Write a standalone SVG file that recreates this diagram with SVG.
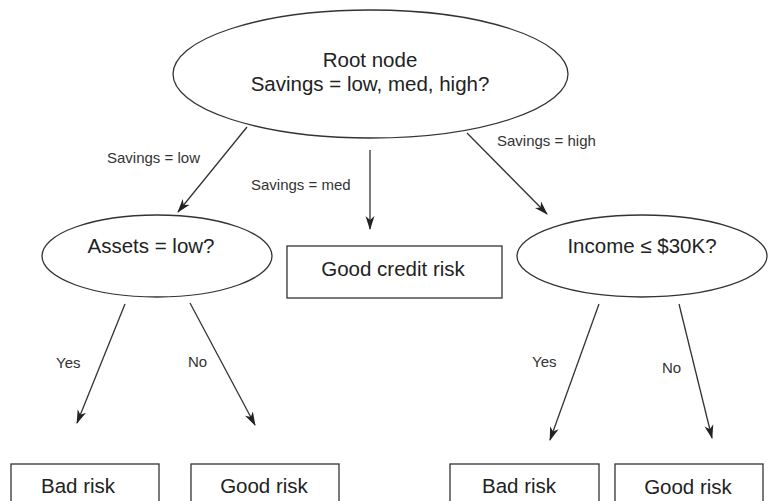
<svg xmlns="http://www.w3.org/2000/svg" width="770" height="501" viewBox="0 0 770 501">
  <style>
    .shape { fill: #fff; stroke: #333; stroke-width: 1.3; }
    .node-text { font-family: "Liberation Sans", Arial, sans-serif; font-size: 20.5px; fill: #222; text-anchor: middle; }
    .edge { stroke: #333; stroke-width: 1.3; fill: none; marker-end: url(#arrow); }
    .edge-label { font-family: "Liberation Sans", Arial, sans-serif; font-size: 15px; fill: #333; }
  </style>
  <defs>
    <marker id="arrow" viewBox="0 0 14 10" refX="13" refY="5" markerWidth="14" markerHeight="10" markerUnits="userSpaceOnUse" orient="auto">
      <path d="M0,0.5 L14,5 L0,9.5 L4,5 z" fill="#222"/>
    </marker>
  </defs>
  <rect width="770" height="501" fill="#fff"/>

  <g id="connectors">
    <line class="edge" x1="247" y1="127" x2="178" y2="212"/>
    <line class="edge" x1="370" y1="150" x2="370" y2="229"/>
    <line class="edge" x1="467" y1="133" x2="547" y2="214"/>
    <line class="edge" x1="125" y1="304" x2="77" y2="423"/>
    <line class="edge" x1="190" y1="303" x2="255" y2="425"/>
    <line class="edge" x1="599" y1="304" x2="550" y2="440"/>
    <line class="edge" x1="679" y1="304" x2="712" y2="438"/>
    <text class="edge-label" x="107" y="163">Savings = low</text>
    <text class="edge-label" x="251" y="190">Savings = med</text>
    <text class="edge-label" x="497" y="146">Savings = high</text>
    <text class="edge-label" x="56" y="368">Yes</text>
    <text class="edge-label" x="188" y="367">No</text>
    <text class="edge-label" x="532" y="367">Yes</text>
    <text class="edge-label" x="662" y="373">No</text>
  </g>

  <g id="root">
    <ellipse class="shape" cx="370.5" cy="74" rx="197.5" ry="64"/>
    <text class="node-text" x="370" y="67">Root node</text>
    <text class="node-text" x="370" y="91">Savings = low, med, high?</text>
  </g>

  <g id="assets">
    <ellipse class="shape" cx="157" cy="256" rx="115" ry="41"/>
    <text class="node-text" x="151" y="253">Assets = low?</text>
  </g>

  <g id="good-credit">
    <rect class="shape" x="287" y="246" width="215" height="52"/>
    <text class="node-text" x="393" y="276">Good credit risk</text>
  </g>

  <g id="income">
    <ellipse class="shape" cx="642" cy="256" rx="125" ry="41"/>
    <text class="node-text" x="642" y="253">Income ≤ $30K?</text>
  </g>

  <g id="bad-risk-left">
    <rect class="shape" x="11" y="464" width="148" height="45"/>
    <text class="node-text" x="78" y="493">Bad risk</text>
  </g>

  <g id="good-risk-left">
    <rect class="shape" x="191" y="464" width="148" height="45"/>
    <text class="node-text" x="264" y="493">Good risk</text>
  </g>

  <g id="bad-risk-right">
    <rect class="shape" x="450" y="464" width="149" height="45"/>
    <text class="node-text" x="519" y="493">Bad risk</text>
  </g>

  <g id="good-risk-right">
    <rect class="shape" x="615" y="464" width="148" height="45"/>
    <text class="node-text" x="688" y="494">Good risk</text>
  </g>
</svg>
